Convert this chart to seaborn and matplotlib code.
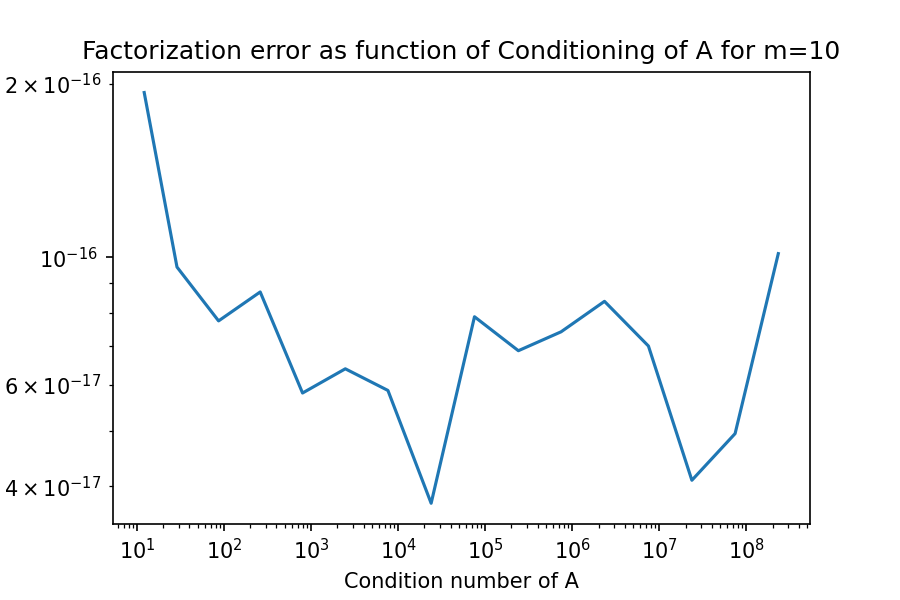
import numpy as np
import pandas as pd
import matplotlib
matplotlib.use("Agg")
import matplotlib.pyplot as plt
import seaborn as sns

# condition numbers of A
cond_A = [12.1, 28.8, 86.5, 260, 797, 2470, 7620, 23900, 75200,
          240000, 743000, 2.34e6, 7.48e6, 2.36e7, 7.4e7, 2.32e8]
# factorization error for each matrix
fact_error = [1.93e-16, 9.61e-17, 7.75e-17, 8.70e-17, 5.81e-17, 6.40e-17,
              5.87e-17, 3.74e-17, 7.88e-17, 6.88e-17, 7.42e-17, 8.38e-17,
              7.01e-17, 4.10e-17, 4.94e-17, 1.014e-16]

df = pd.DataFrame({"cond": cond_A, "err": fact_error})

fig, ax = plt.subplots(figsize=(6, 4), dpi=150)
fig.subplots_adjust(left=0.125, right=0.9, top=0.88, bottom=0.127)

sns.lineplot(data=df, x="cond", y="err", ax=ax, color="#1f77b4", linewidth=1.5)
ax.set_xscale("log")
ax.set_yscale("log")

ax.set_title("Factorization error as function of Conditioning of A for m=10")
ax.set_xlabel("Condition number of A")
ax.set_ylabel("")

fig.savefig("out.png", dpi=150)
